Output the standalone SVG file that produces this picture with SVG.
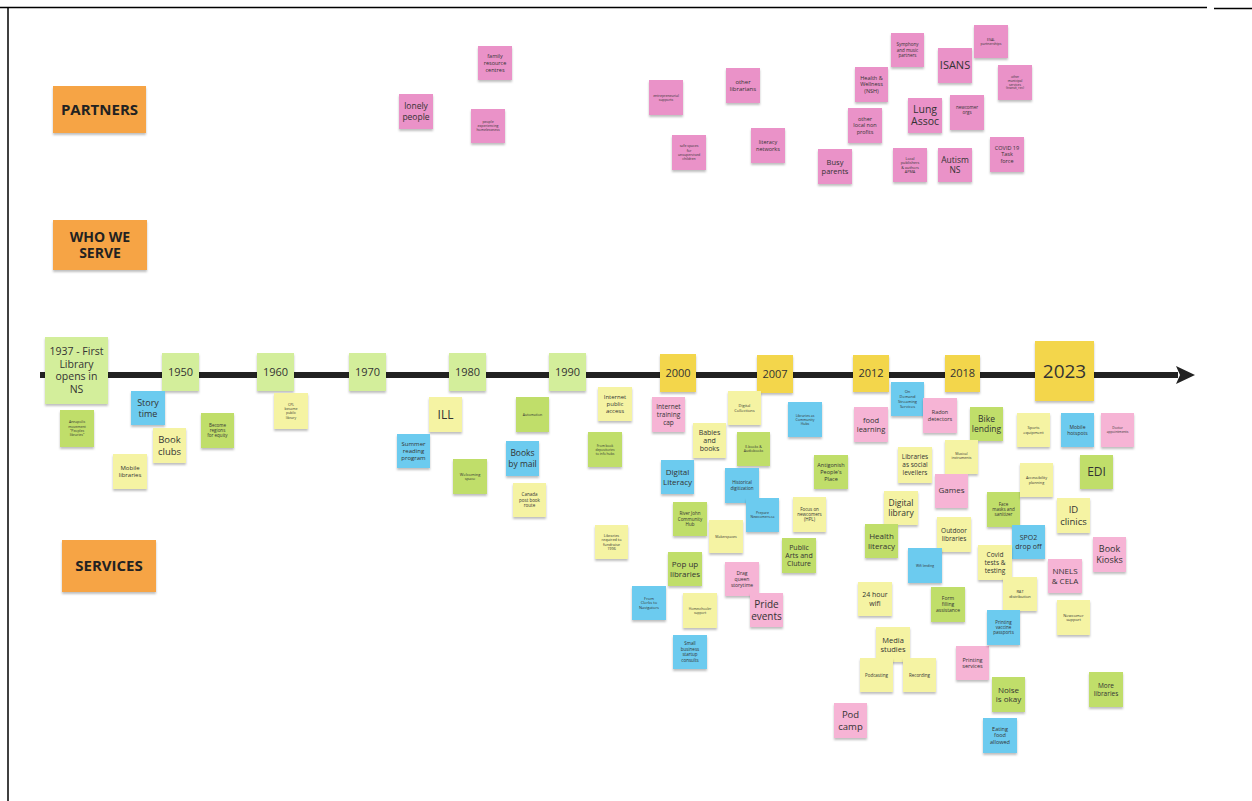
<svg xmlns="http://www.w3.org/2000/svg" width="1252" height="801" viewBox="0 0 1252 801">
<defs>
<filter id="sh" x="-20%" y="-20%" width="140%" height="150%">
<feDropShadow dx="0" dy="2" stdDeviation="1" flood-color="#000" flood-opacity="0.25"/>
</filter>
<marker id="arr" viewBox="0 0 20 20" refX="2" refY="10" markerWidth="20" markerHeight="20" markerUnits="userSpaceOnUse" orient="auto">
<path d="M0,1 L19,10 L0,19 L4,10 Z" fill="#222"/>
</marker>
<style>
.n{filter:url(#sh)}
.pk{fill:#ea92c8}.pl{fill:#f6b4d5}.ly{fill:#f5f3a3}.dg{fill:#c0de6b}.lg{fill:#d3ee9b}.yw{fill:#f3d64c}.bl{fill:#6ccbef}.or{fill:#f6a444}
text{font-family:"Open Sans","DejaVu Sans",sans-serif;fill:#333;text-anchor:middle}
.b{font-weight:bold;fill:#222}
</style>
</defs>
<rect width="1252" height="801" fill="#fff"/>
<g id="frame" stroke="#000" stroke-width="1.5">
<line x1="0" y1="7.5" x2="1207" y2="7.5"/>
<line x1="8" y1="7" x2="8" y2="801"/>
<line x1="1214" y1="8.5" x2="1252" y2="8.5"/>
</g>
<g id="connectors">
<line x1="40" y1="375" x2="1178" y2="375" stroke="#222" stroke-width="6" marker-end="url(#arr)"/>
</g>

<g id="lbl-partners"><rect class="n or" x="53" y="86" width="93" height="47"/><text x="99.5" y="109.5" font-size="15" class="b"><tspan dy=".35em">PARTNERS</tspan></text></g>
<g id="lbl-who"><rect class="n or" x="53" y="220" width="94" height="50"/><text font-size="14" class="b"><tspan x="100" y="236.6" dy=".35em">WHO WE</tspan><tspan x="100" dy="1.2em">SERVE</tspan></text></g>
<g id="lbl-services"><rect class="n or" x="62" y="540" width="94" height="52"/><text x="109" y="566" font-size="15" class="b"><tspan dy=".35em">SERVICES</tspan></text></g>

<!-- partners -->
<g id="p-family"><rect class="n pk" x="478" y="46" width="34" height="34"/><text font-size="5.5"><tspan x="495" y="56.4" dy=".35em">family</tspan><tspan x="495" dy="1.2em">resource</tspan><tspan x="495" dy="1.2em">centres</tspan></text></g>
<g id="p-lonely"><rect class="n pk" x="399" y="94" width="34" height="35"/><text font-size="8.5"><tspan x="416" y="106.4" dy=".35em">lonely</tspan><tspan x="416" dy="1.2em">people</tspan></text></g>
<g id="p-homeless"><rect class="n pk" x="471" y="109" width="34" height="34"/><text font-size="3.5"><tspan x="488" y="121.8" dy=".35em">people</tspan><tspan x="488" dy="1.2em">experiencing</tspan><tspan x="488" dy="1.2em">homelessness</tspan></text></g>
<g id="p-entre"><rect class="n pk" x="649" y="80" width="34" height="35"/><text font-size="3.5"><tspan x="666" y="95.4" dy=".35em">entrepreneurial</tspan><tspan x="666" dy="1.2em">supports</tspan></text></g>
<g id="p-otherlib"><rect class="n pk" x="726" y="68" width="34" height="35"/><text font-size="6"><tspan x="743" y="81.9" dy=".35em">other</tspan><tspan x="743" dy="1.2em">librarians</tspan></text></g>
<g id="p-safe"><rect class="n pk" x="672" y="135" width="34" height="35"/><text font-size="3.5"><tspan x="689" y="146.2" dy=".35em">safe spaces</tspan><tspan x="689" dy="1.2em">for</tspan><tspan x="689" dy="1.2em">unsupervised</tspan><tspan x="689" dy="1.2em">children</tspan></text></g>
<g id="p-literacy"><rect class="n pk" x="751" y="128" width="34" height="35"/><text font-size="5.5"><tspan x="768" y="142.2" dy=".35em">literacy</tspan><tspan x="768" dy="1.2em">networks</tspan></text></g>
<g id="p-symphony"><rect class="n pk" x="891" y="33" width="33" height="34"/><text font-size="4.5"><tspan x="907.5" y="44.6" dy=".35em">Symphony</tspan><tspan x="907.5" dy="1.2em">and music</tspan><tspan x="907.5" dy="1.2em">partners</tspan></text></g>
<g id="p-esal"><rect class="n pk" x="974" y="25" width="34" height="33"/><text font-size="3.5"><tspan x="991" y="39.4" dy=".35em">ESAL</tspan><tspan x="991" dy="1.2em">partnerships</tspan></text></g>
<g id="p-isans"><rect class="n pk" x="938" y="48" width="34" height="35"/><text x="955" y="65.5" font-size="11"><tspan dy=".35em">ISANS</tspan></text></g>
<g id="p-health"><rect class="n pk" x="855" y="67" width="33" height="35"/><text font-size="5.5"><tspan x="871.5" y="77.9" dy=".35em">Health &amp;</tspan><tspan x="871.5" dy="1.2em">Wellness</tspan><tspan x="871.5" dy="1.2em">(NSH)</tspan></text></g>
<g id="p-municipal"><rect class="n pk" x="998" y="65" width="34" height="35"/><text font-size="3.2"><tspan x="1015" y="76.7" dy=".35em">other</tspan><tspan x="1015" dy="1.2em">municipal</tspan><tspan x="1015" dy="1.2em">services</tspan><tspan x="1015" dy="1.2em">(transit, rec)</tspan></text></g>
<g id="p-lung"><rect class="n pk" x="908" y="98" width="34" height="35"/><text font-size="10.5"><tspan x="925" y="109.2" dy=".35em">Lung</tspan><tspan x="925" dy="1.2em">Assoc</tspan></text></g>
<g id="p-newcomer"><rect class="n pk" x="950" y="95" width="34" height="35"/><text font-size="4.5"><tspan x="967" y="107.3" dy=".35em">newcomer</tspan><tspan x="967" dy="1.2em">orgs</tspan></text></g>
<g id="p-nonprofit"><rect class="n pk" x="848" y="108" width="34" height="35"/><text font-size="5.5"><tspan x="865" y="118.9" dy=".35em">other</tspan><tspan x="865" dy="1.2em">local non</tspan><tspan x="865" dy="1.2em">profits</tspan></text></g>
<g id="p-busy"><rect class="n pk" x="818" y="149" width="34" height="35"/><text font-size="7.5"><tspan x="835" y="162" dy=".35em">Busy</tspan><tspan x="835" dy="1.2em">parents</tspan></text></g>
<g id="p-publishers"><rect class="n pk" x="893" y="148" width="34" height="34"/><text font-size="3.8"><tspan x="910" y="158.2" dy=".35em">Local</tspan><tspan x="910" dy="1.2em">publishers</tspan><tspan x="910" dy="1.2em">&amp; authors</tspan><tspan x="910" dy="1.2em">APMA</tspan></text></g>
<g id="p-autism"><rect class="n pk" x="938" y="148" width="34" height="34"/><text font-size="8.5"><tspan x="955" y="159.9" dy=".35em">Autism</tspan><tspan x="955" dy="1.2em">NS</tspan></text></g>
<g id="p-covid"><rect class="n pk" x="990" y="137" width="34" height="35"/><text font-size="5.5"><tspan x="1007" y="147.9" dy=".35em">COVID 19</tspan><tspan x="1007" dy="1.2em">Task</tspan><tspan x="1007" dy="1.2em">force</tspan></text></g>

<!-- years -->
<g id="y1937"><rect class="n lg" x="45" y="337" width="63" height="67"/><text font-size="10.5"><tspan x="76.5" y="351.6" dy=".35em">1937 - First</tspan><tspan x="76.5" dy="1.2em">Library</tspan><tspan x="76.5" dy="1.2em">opens in</tspan><tspan x="76.5" dy="1.2em">NS</tspan></text></g>
<g id="y1950"><rect class="n lg" x="162" y="353" width="37" height="38"/><text x="180.5" y="372" font-size="11"><tspan dy=".35em">1950</tspan></text></g>
<g id="y1960"><rect class="n lg" x="257" y="353" width="37" height="38"/><text x="275.5" y="372" font-size="11"><tspan dy=".35em">1960</tspan></text></g>
<g id="y1970"><rect class="n lg" x="349" y="353" width="37" height="38"/><text x="367.5" y="372" font-size="11"><tspan dy=".35em">1970</tspan></text></g>
<g id="y1980"><rect class="n lg" x="449" y="353" width="37" height="38"/><text x="467.5" y="372" font-size="11"><tspan dy=".35em">1980</tspan></text></g>
<g id="y1990"><rect class="n lg" x="549" y="353" width="37" height="38"/><text x="567.5" y="372" font-size="11"><tspan dy=".35em">1990</tspan></text></g>
<g id="y2000"><rect class="n yw" x="660" y="354" width="36" height="38"/><text x="678" y="373" font-size="11"><tspan dy=".35em">2000</tspan></text></g>
<g id="y2007"><rect class="n yw" x="757" y="355" width="36" height="38"/><text x="775" y="374" font-size="11"><tspan dy=".35em">2007</tspan></text></g>
<g id="y2012"><rect class="n yw" x="853" y="355" width="36" height="37"/><text x="871" y="373.5" font-size="11"><tspan dy=".35em">2012</tspan></text></g>
<g id="y2018"><rect class="n yw" x="945" y="355" width="35" height="37"/><text x="962.5" y="373.5" font-size="11"><tspan dy=".35em">2018</tspan></text></g>
<g id="y2023"><rect class="n yw" x="1035" y="341" width="59" height="60"/><text x="1064.5" y="371" font-size="19"><tspan dy=".35em">2023</tspan></text></g>

<!-- services -->
<g id="s-annapolis"><rect class="n dg" x="60" y="410" width="34" height="37"/><text font-size="3.5"><tspan x="77" y="422.2" dy=".35em">Annapolis</tspan><tspan x="77" dy="1.2em">movement</tspan><tspan x="77" dy="1.2em">"Peoples</tspan><tspan x="77" dy="1.2em">libraries"</tspan></text></g>
<g id="s-story"><rect class="n bl" x="131" y="391" width="34" height="34"/><text font-size="9"><tspan x="148" y="402.6" dy=".35em">Story</tspan><tspan x="148" dy="1.2em">time</tspan></text></g>
<g id="s-bookclubs"><rect class="n ly" x="153" y="428" width="33" height="35"/><text font-size="9.5"><tspan x="169.5" y="439.8" dy=".35em">Book</tspan><tspan x="169.5" dy="1.2em">clubs</tspan></text></g>
<g id="s-regions"><rect class="n dg" x="201" y="413" width="33" height="35"/><text font-size="4.5"><tspan x="217.5" y="425.1" dy=".35em">Become</tspan><tspan x="217.5" dy="1.2em">regions</tspan><tspan x="217.5" dy="1.2em">for equity</tspan></text></g>
<g id="s-mobile"><rect class="n ly" x="113" y="454" width="34" height="35"/><text font-size="6"><tspan x="130" y="467.9" dy=".35em">Mobile</tspan><tspan x="130" dy="1.2em">libraries</tspan></text></g>
<g id="s-cpl"><rect class="n ly" x="274" y="393" width="34" height="36"/><text font-size="3.5"><tspan x="291" y="404.7" dy=".35em">CPL</tspan><tspan x="291" dy="1.2em">became</tspan><tspan x="291" dy="1.2em">public</tspan><tspan x="291" dy="1.2em">library</tspan></text></g>
<g id="s-ill"><rect class="n ly" x="429" y="397" width="33" height="35"/><text x="445.5" y="414.5" font-size="12"><tspan dy=".35em">ILL</tspan></text></g>
<g id="s-summer"><rect class="n bl" x="397" y="434" width="33" height="34"/><text font-size="6"><tspan x="413.5" y="443.8" dy=".35em">Summer</tspan><tspan x="413.5" dy="1.2em">reading</tspan><tspan x="413.5" dy="1.2em">program</tspan></text></g>
<g id="s-welcoming"><rect class="n dg" x="453" y="459" width="34" height="35"/><text font-size="4"><tspan x="470" y="474.1" dy=".35em">Welcoming</tspan><tspan x="470" dy="1.2em">space</tspan></text></g>
<g id="s-automation"><rect class="n dg" x="516" y="397" width="33" height="35"/><text x="532.5" y="414.5" font-size="3.5"><tspan dy=".35em">Automation</tspan></text></g>
<g id="s-booksmail"><rect class="n bl" x="506" y="441" width="33" height="35"/><text font-size="8.5"><tspan x="522.5" y="453.4" dy=".35em">Books</tspan><tspan x="522.5" dy="1.2em">by mail</tspan></text></g>
<g id="s-canadapost"><rect class="n ly" x="513" y="483" width="33" height="34"/><text font-size="4.5"><tspan x="529.5" y="494.6" dy=".35em">Canada</tspan><tspan x="529.5" dy="1.2em">post book</tspan><tspan x="529.5" dy="1.2em">route</tspan></text></g>
<g id="s-internetpublic"><rect class="n ly" x="598" y="387" width="34" height="34"/><text font-size="6"><tspan x="615" y="396.8" dy=".35em">Internet</tspan><tspan x="615" dy="1.2em">public</tspan><tspan x="615" dy="1.2em">access</tspan></text></g>
<g id="s-depositories"><rect class="n dg" x="588" y="432" width="34" height="35"/><text font-size="3.3"><tspan x="605" y="445.5" dy=".35em">From book</tspan><tspan x="605" dy="1.2em">depositories</tspan><tspan x="605" dy="1.2em">to info hubs</tspan></text></g>
<g id="s-fundraise"><rect class="n ly" x="595" y="525" width="33" height="34"/><text font-size="3.8"><tspan x="611.5" y="535.2" dy=".35em">Libraries</tspan><tspan x="611.5" dy="1.2em">required to</tspan><tspan x="611.5" dy="1.2em">fundraise</tspan><tspan x="611.5" dy="1.2em">1996</tspan></text></g>
<g id="s-training"><rect class="n pl" x="652" y="397" width="33" height="35"/><text font-size="6.5"><tspan x="668.5" y="406.7" dy=".35em">Internet</tspan><tspan x="668.5" dy="1.2em">training</tspan><tspan x="668.5" dy="1.2em">cap</tspan></text></g>
<g id="s-digcollections"><rect class="n ly" x="728" y="391" width="33" height="34"/><text font-size="4"><tspan x="744.5" y="405.6" dy=".35em">Digital</tspan><tspan x="744.5" dy="1.2em">Collections</tspan></text></g>
<g id="s-communityhubs"><rect class="n bl" x="788" y="402" width="34" height="35"/><text font-size="3.5"><tspan x="805" y="415.3" dy=".35em">Libraries as</tspan><tspan x="805" dy="1.2em">Community</tspan><tspan x="805" dy="1.2em">Hubs</tspan></text></g>
<g id="s-babies"><rect class="n ly" x="693" y="423" width="33" height="35"/><text font-size="7"><tspan x="709.5" y="432.1" dy=".35em">Babies</tspan><tspan x="709.5" dy="1.2em">and</tspan><tspan x="709.5" dy="1.2em">books</tspan></text></g>
<g id="s-ebooks"><rect class="n dg" x="737" y="432" width="33" height="34"/><text font-size="3.5"><tspan x="753.5" y="446.9" dy=".35em">E-books &amp;</tspan><tspan x="753.5" dy="1.2em">Audiobooks</tspan></text></g>
<g id="s-digliteracy"><rect class="n bl" x="661" y="460" width="33" height="34"/><text font-size="8"><tspan x="677.5" y="472.2" dy=".35em">Digital</tspan><tspan x="677.5" dy="1.2em">Literacy</tspan></text></g>
<g id="s-historical"><rect class="n bl" x="725" y="468" width="34" height="35"/><text font-size="4.5"><tspan x="742" y="482.8" dy=".35em">Historical</tspan><tspan x="742" dy="1.2em">digitization</tspan></text></g>
<g id="s-antigonish"><rect class="n dg" x="814" y="455" width="34" height="34"/><text font-size="5.5"><tspan x="831" y="465.4" dy=".35em">Antigonish</tspan><tspan x="831" dy="1.2em">People's</tspan><tspan x="831" dy="1.2em">Place</tspan></text></g>
<g id="s-riverjohn"><rect class="n dg" x="673" y="502" width="34" height="34"/><text font-size="4.5"><tspan x="690" y="513.6" dy=".35em">River John</tspan><tspan x="690" dy="1.2em">Community</tspan><tspan x="690" dy="1.2em">Hub</tspan></text></g>
<g id="s-prepare"><rect class="n bl" x="746" y="498" width="33" height="34"/><text font-size="3.5"><tspan x="762.5" y="512.9" dy=".35em">Prepare</tspan><tspan x="762.5" dy="1.2em">Newcomers.ca</tspan></text></g>
<g id="s-focus"><rect class="n ly" x="793" y="497" width="33" height="35"/><text font-size="4.5"><tspan x="809.5" y="509.1" dy=".35em">Focus on</tspan><tspan x="809.5" dy="1.2em">newcomers</tspan><tspan x="809.5" dy="1.2em">(HPL)</tspan></text></g>
<g id="s-makerspaces"><rect class="n ly" x="709" y="520" width="34" height="33"/><text x="726" y="536.5" font-size="3.5"><tspan dy=".35em">Makerspaces</tspan></text></g>
<g id="s-popup"><rect class="n dg" x="668" y="552" width="34" height="34"/><text font-size="8"><tspan x="685" y="564.2" dy=".35em">Pop up</tspan><tspan x="685" dy="1.2em">libraries</tspan></text></g>
<g id="s-publicarts"><rect class="n dg" x="782" y="538" width="34" height="35"/><text font-size="7"><tspan x="799" y="547.1" dy=".35em">Public</tspan><tspan x="799" dy="1.2em">Arts and</tspan><tspan x="799" dy="1.2em">Cluture</tspan></text></g>
<g id="s-drag"><rect class="n pl" x="725" y="562" width="34" height="34"/><text font-size="5"><tspan x="742" y="573" dy=".35em">Drag</tspan><tspan x="742" dy="1.2em">queen</tspan><tspan x="742" dy="1.2em">storytime</tspan></text></g>
<g id="s-clerks"><rect class="n bl" x="632" y="586" width="34" height="34"/><text font-size="4"><tspan x="649" y="598.2" dy=".35em">From</tspan><tspan x="649" dy="1.2em">Clerks to</tspan><tspan x="649" dy="1.2em">Navigators</tspan></text></g>
<g id="s-homeschool"><rect class="n ly" x="683" y="593" width="34" height="35"/><text font-size="3.3"><tspan x="700" y="608.5" dy=".35em">Homeschooler</tspan><tspan x="700" dy="1.2em">support</tspan></text></g>
<g id="s-pride"><rect class="n pl" x="750" y="593" width="33" height="34"/><text font-size="10"><tspan x="766.5" y="604" dy=".35em">Pride</tspan><tspan x="766.5" dy="1.2em">events</tspan></text></g>
<g id="s-smallbiz"><rect class="n bl" x="673" y="635" width="34" height="34"/><text font-size="4.5"><tspan x="690" y="643.9" dy=".35em">Small</tspan><tspan x="690" dy="1.2em">business</tspan><tspan x="690" dy="1.2em">startup</tspan><tspan x="690" dy="1.2em">consults</tspan></text></g>
<g id="s-ondemand"><rect class="n bl" x="891" y="382" width="33" height="34"/><text font-size="4"><tspan x="907.5" y="391.8" dy=".35em">On</tspan><tspan x="907.5" dy="1.2em">Demand</tspan><tspan x="907.5" dy="1.2em">Streaming</tspan><tspan x="907.5" dy="1.2em">Services</tspan></text></g>
<g id="s-food"><rect class="n pl" x="854" y="407" width="34" height="35"/><text font-size="7.5"><tspan x="871" y="420" dy=".35em">food</tspan><tspan x="871" dy="1.2em">learning</tspan></text></g>
<g id="s-radon"><rect class="n pl" x="923" y="398" width="34" height="35"/><text font-size="5.5"><tspan x="940" y="412.2" dy=".35em">Radon</tspan><tspan x="940" dy="1.2em">detectors</tspan></text></g>
<g id="s-bike"><rect class="n dg" x="970" y="407" width="33" height="34"/><text font-size="8.5"><tspan x="986.5" y="418.9" dy=".35em">Bike</tspan><tspan x="986.5" dy="1.2em">lending</tspan></text></g>
<g id="s-levellers"><rect class="n ly" x="898" y="447" width="34" height="36"/><text font-size="6.5"><tspan x="915" y="457.2" dy=".35em">Libraries</tspan><tspan x="915" dy="1.2em">as social</tspan><tspan x="915" dy="1.2em">levellers</tspan></text></g>
<g id="s-musical"><rect class="n ly" x="945" y="440" width="33" height="34"/><text font-size="3.5"><tspan x="961.5" y="453.9" dy=".35em">Musical</tspan><tspan x="961.5" dy="1.2em">instruments</tspan></text></g>
<g id="s-games"><rect class="n pl" x="935" y="474" width="33" height="34"/><text x="951.5" y="490" font-size="8"><tspan dy=".35em">Games</tspan></text></g>
<g id="s-diglibrary"><rect class="n ly" x="884" y="491" width="34" height="34"/><text font-size="8.5"><tspan x="901" y="502.9" dy=".35em">Digital</tspan><tspan x="901" dy="1.2em">library</tspan></text></g>
<g id="s-facemasks"><rect class="n dg" x="987" y="492" width="33" height="35"/><text font-size="4.5"><tspan x="1003.5" y="504.1" dy=".35em">Face</tspan><tspan x="1003.5" dy="1.2em">masks and</tspan><tspan x="1003.5" dy="1.2em">sanitizer</tspan></text></g>
<g id="s-healthlit"><rect class="n dg" x="865" y="524" width="33" height="34"/><text font-size="8"><tspan x="881.5" y="536.2" dy=".35em">Health</tspan><tspan x="881.5" dy="1.2em">literacy</tspan></text></g>
<g id="s-outdoor"><rect class="n ly" x="937" y="517" width="34" height="35"/><text font-size="6.5"><tspan x="954" y="530.6" dy=".35em">Outdoor</tspan><tspan x="954" dy="1.2em">libraries</tspan></text></g>
<g id="s-wifilending"><rect class="n bl" x="908" y="548" width="34" height="35"/><text x="925" y="565.5" font-size="3.3"><tspan dy=".35em">Wifi lending</tspan></text></g>
<g id="s-24wifi"><rect class="n ly" x="858" y="582" width="34" height="34"/><text font-size="7"><tspan x="875" y="594.8" dy=".35em">24 hour</tspan><tspan x="875" dy="1.2em">wifi</tspan></text></g>
<g id="s-formfilling"><rect class="n dg" x="931" y="587" width="34" height="35"/><text font-size="5"><tspan x="948" y="598.5" dy=".35em">Form</tspan><tspan x="948" dy="1.2em">filling</tspan><tspan x="948" dy="1.2em">assistance</tspan></text></g>
<g id="s-media"><rect class="n ly" x="876" y="627" width="34" height="35"/><text font-size="7.5"><tspan x="893" y="640" dy=".35em">Media</tspan><tspan x="893" dy="1.2em">studies</tspan></text></g>
<g id="s-podcasting"><rect class="n ly" x="860" y="658" width="33" height="34"/><text x="876.5" y="675" font-size="4.5"><tspan dy=".35em">Podcasting</tspan></text></g>
<g id="s-recording"><rect class="n ly" x="903" y="658" width="33" height="34"/><text x="919.5" y="675" font-size="4.5"><tspan dy=".35em">Recording</tspan></text></g>
<g id="s-printing"><rect class="n pl" x="956" y="646" width="33" height="34"/><text font-size="5.5"><tspan x="972.5" y="659.7" dy=".35em">Printing</tspan><tspan x="972.5" dy="1.2em">services</tspan></text></g>
<g id="s-noise"><rect class="n dg" x="992" y="677" width="33" height="35"/><text font-size="8"><tspan x="1008.5" y="689.7" dy=".35em">Noise</tspan><tspan x="1008.5" dy="1.2em">is okay</tspan></text></g>
<g id="s-podcamp"><rect class="n pl" x="834" y="703" width="33" height="35"/><text font-size="9.5"><tspan x="850.5" y="714.8" dy=".35em">Pod</tspan><tspan x="850.5" dy="1.2em">camp</tspan></text></g>
<g id="s-eating"><rect class="n bl" x="983" y="718" width="34" height="35"/><text font-size="5.5"><tspan x="1000" y="728.9" dy=".35em">Eating</tspan><tspan x="1000" dy="1.2em">food</tspan><tspan x="1000" dy="1.2em">allowed</tspan></text></g>
<g id="s-sports"><rect class="n ly" x="1017" y="413" width="33" height="34"/><text font-size="4"><tspan x="1033.5" y="427.6" dy=".35em">Sports</tspan><tspan x="1033.5" dy="1.2em">equipment</tspan></text></g>
<g id="s-hotspots"><rect class="n bl" x="1061" y="413" width="33" height="34"/><text font-size="5"><tspan x="1077.5" y="427" dy=".35em">Mobile</tspan><tspan x="1077.5" dy="1.2em">hotspots</tspan></text></g>
<g id="s-doctor"><rect class="n pl" x="1101" y="413" width="33" height="34"/><text font-size="3.3"><tspan x="1117.5" y="428" dy=".35em">Doctor</tspan><tspan x="1117.5" dy="1.2em">appointments</tspan></text></g>
<g id="s-edi"><rect class="n dg" x="1080" y="455" width="33" height="34"/><text x="1096.5" y="472" font-size="12"><tspan dy=".35em">EDI</tspan></text></g>
<g id="s-access"><rect class="n ly" x="1020" y="463" width="33" height="34"/><text font-size="3.8"><tspan x="1036.5" y="477.7" dy=".35em">Accessibility</tspan><tspan x="1036.5" dy="1.2em">planning</tspan></text></g>
<g id="s-idclinics"><rect class="n ly" x="1057" y="498" width="33" height="35"/><text font-size="9.5"><tspan x="1073.5" y="509.8" dy=".35em">ID</tspan><tspan x="1073.5" dy="1.2em">clinics</tspan></text></g>
<g id="s-spo2"><rect class="n bl" x="1012" y="525" width="33" height="34"/><text font-size="7"><tspan x="1028.5" y="537.8" dy=".35em">SPO2</tspan><tspan x="1028.5" dy="1.2em">drop off</tspan></text></g>
<g id="s-covidtests"><rect class="n ly" x="978" y="545" width="34" height="35"/><text font-size="6.5"><tspan x="995" y="554.7" dy=".35em">Covid</tspan><tspan x="995" dy="1.2em">tests &amp;</tspan><tspan x="995" dy="1.2em">testing</tspan></text></g>
<g id="s-kiosks"><rect class="n pl" x="1093" y="537" width="33" height="35"/><text font-size="9"><tspan x="1109.5" y="549.1" dy=".35em">Book</tspan><tspan x="1109.5" dy="1.2em">Kiosks</tspan></text></g>
<g id="s-nnels"><rect class="n pl" x="1048" y="559" width="34" height="34"/><text font-size="8"><tspan x="1065" y="571.2" dy=".35em">NNELS</tspan><tspan x="1065" dy="1.2em">&amp; CELA</tspan></text></g>
<g id="s-rat"><rect class="n ly" x="1003" y="577" width="34" height="34"/><text font-size="4"><tspan x="1020" y="591.6" dy=".35em">RAT</tspan><tspan x="1020" dy="1.2em">distribution</tspan></text></g>
<g id="s-vaccine"><rect class="n bl" x="987" y="610" width="33" height="35"/><text font-size="4.5"><tspan x="1003.5" y="622.1" dy=".35em">Printing</tspan><tspan x="1003.5" dy="1.2em">vaccine</tspan><tspan x="1003.5" dy="1.2em">passports</tspan></text></g>
<g id="s-newcomersupport"><rect class="n ly" x="1057" y="600" width="33" height="35"/><text font-size="4"><tspan x="1073.5" y="615.1" dy=".35em">Newcomer</tspan><tspan x="1073.5" dy="1.2em">support</tspan></text></g>
<g id="s-morelibs"><rect class="n dg" x="1089" y="672" width="34" height="35"/><text font-size="6.5"><tspan x="1106" y="685.6" dy=".35em">More</tspan><tspan x="1106" dy="1.2em">libraries</tspan></text></g>
</svg>
